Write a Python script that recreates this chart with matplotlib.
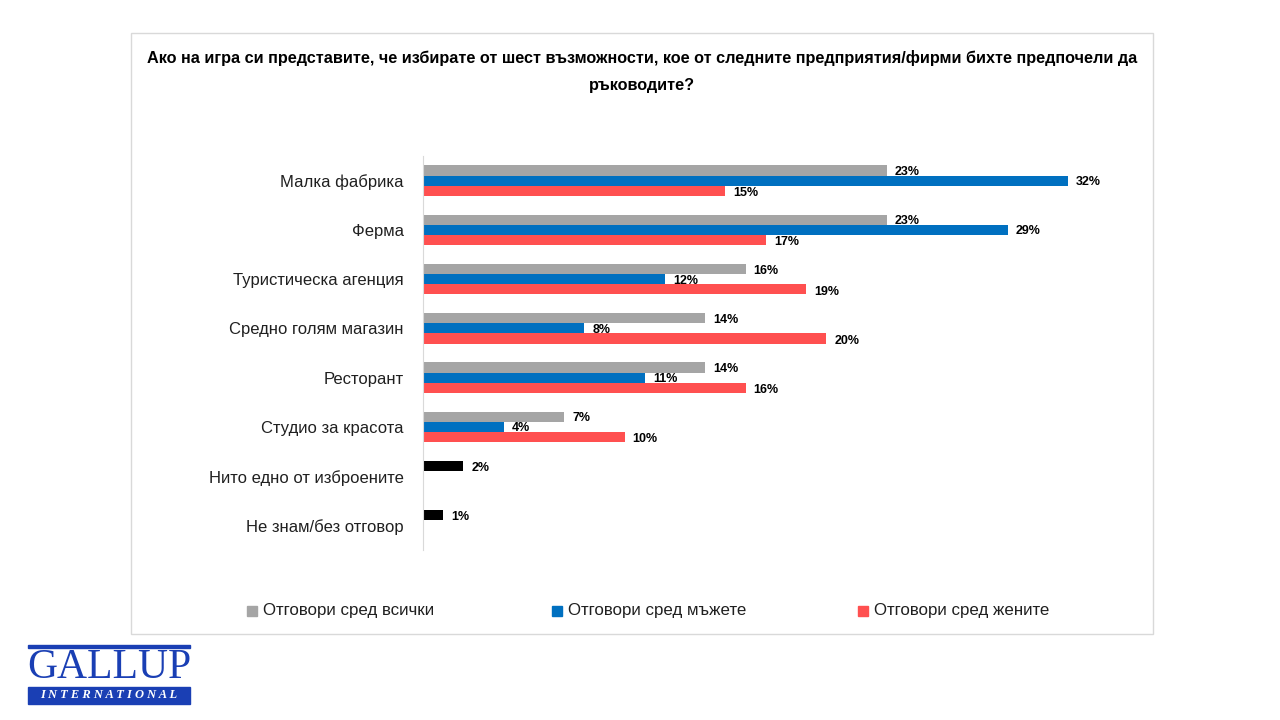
import matplotlib
matplotlib.use("Agg")
import matplotlib.pyplot as plt
from matplotlib.patches import Rectangle

categories = ['Малка фабрика', 'Ферма', 'Туристическа агенция', 'Средно голям магазин',
              'Ресторант', 'Студио за красота', 'Нито едно от изброените', 'Не знам/без отговор']
all_resp = [23, 23, 16, 14, 14, 7, 2, 1]
men_resp = [32, 29, 12, 8, 11, 4, None, None]
women_resp = [15, 17, 19, 20, 16, 10, None, None]
series_names = ['Отговори сред всички', 'Отговори сред мъжете', 'Отговори сред жените']
title = ('Ако на игра си представите, че избирате от шест възможности, кое от следните предприятия/фирми бихте предпочели да\n'
         'ръководите?')

C_GREY = '#A5A5A5'
C_BLUE = '#0070C0'
C_RED = '#FF5050'
C_BLACK = '#000000'

plt.rcParams['font.family'] = ['Liberation Sans Narrow', 'Liberation Sans', 'DejaVu Sans']

fig = plt.figure(figsize=(12.8, 7.2), dpi=100)

# outer frame
fig.patches.append(Rectangle((131/1280, 1-634/720), (1153-131)/1280, (634-33)/720,
                             transform=fig.transFigure, fill=False, edgecolor='#D9D9D9', lw=1))

ax = fig.add_axes([423/1280, 1-550/720, (35*20.16)/1280, (550-156)/720])
h = 0.205
n = len(categories)
for i in range(n):
    col = C_GREY if men_resp[i] is not None else C_BLACK
    y = i - h
    ax.barh(y, all_resp[i], height=h, color=col)
    ax.text(all_resp[i] + 0.4, y + 0.03, f'{all_resp[i]}%', va='center', ha='left',
            fontsize=9, fontweight='bold', color='#000000')
    if men_resp[i] is not None:
        ax.barh(i, men_resp[i], height=h, color=C_BLUE)
        ax.text(men_resp[i] + 0.4, i + 0.03, f'{men_resp[i]}%', va='center', ha='left',
                fontsize=9, fontweight='bold', color='#000000')
    if women_resp[i] is not None:
        ax.barh(i + h, women_resp[i], height=h, color=C_RED)
        ax.text(women_resp[i] + 0.4, i + h + 0.05, f'{women_resp[i]}%', va='center', ha='left',
                fontsize=9, fontweight='bold', color='#000000')

ax.set_ylim(n - 0.5, -0.5)
ax.set_xlim(0, 35)
ax.set_yticks(range(n))
ax.set_yticklabels(categories, fontsize=12, color='#202020')
ax.tick_params(axis='y', length=0, pad=14)
ax.set_xticks([])
for s in ['top', 'right', 'bottom']:
    ax.spines[s].set_visible(False)
ax.spines['left'].set_color('#D9D9D9')

fig.text(642/1280, 1-71.5/720, title, ha='center', va='center', fontsize=11.7,
         fontweight='bold', linespacing=2.05)

# legend
leg_x = [248, 553, 859]
for hx, name, c in zip(leg_x, series_names, (C_GREY, C_BLUE, C_RED)):
    fig.patches.append(Rectangle(((hx - 1)/1280, 1-616/720), 10/1280, 10/720,
                                 transform=fig.transFigure, color=c))
    fig.text((hx + 15)/1280, 1-611/720, name, ha='left', va='center', fontsize=12.2, color='#202020')

# logo
LOGO = '#1A3FB4'
fig.patches.append(Rectangle((28/1280, 1-648/720), 162/1280, 3/720, transform=fig.transFigure, color=LOGO))
fig.text(109/1280, 1-668/720, 'GALLUP', ha='center', va='center', fontsize=30,
         family='Liberation Serif', color=LOGO)
fig.patches.append(Rectangle((28/1280, 1-704/720), 162/1280, 17/720, transform=fig.transFigure, color=LOGO))
fig.text(109/1280, 1-695.5/720, 'I N T E R N A T I O N A L', ha='center', va='center', fontsize=9,
         family='Liberation Serif', style='italic', fontweight='bold', color='white')

fig.savefig('out.png', dpi=100)
